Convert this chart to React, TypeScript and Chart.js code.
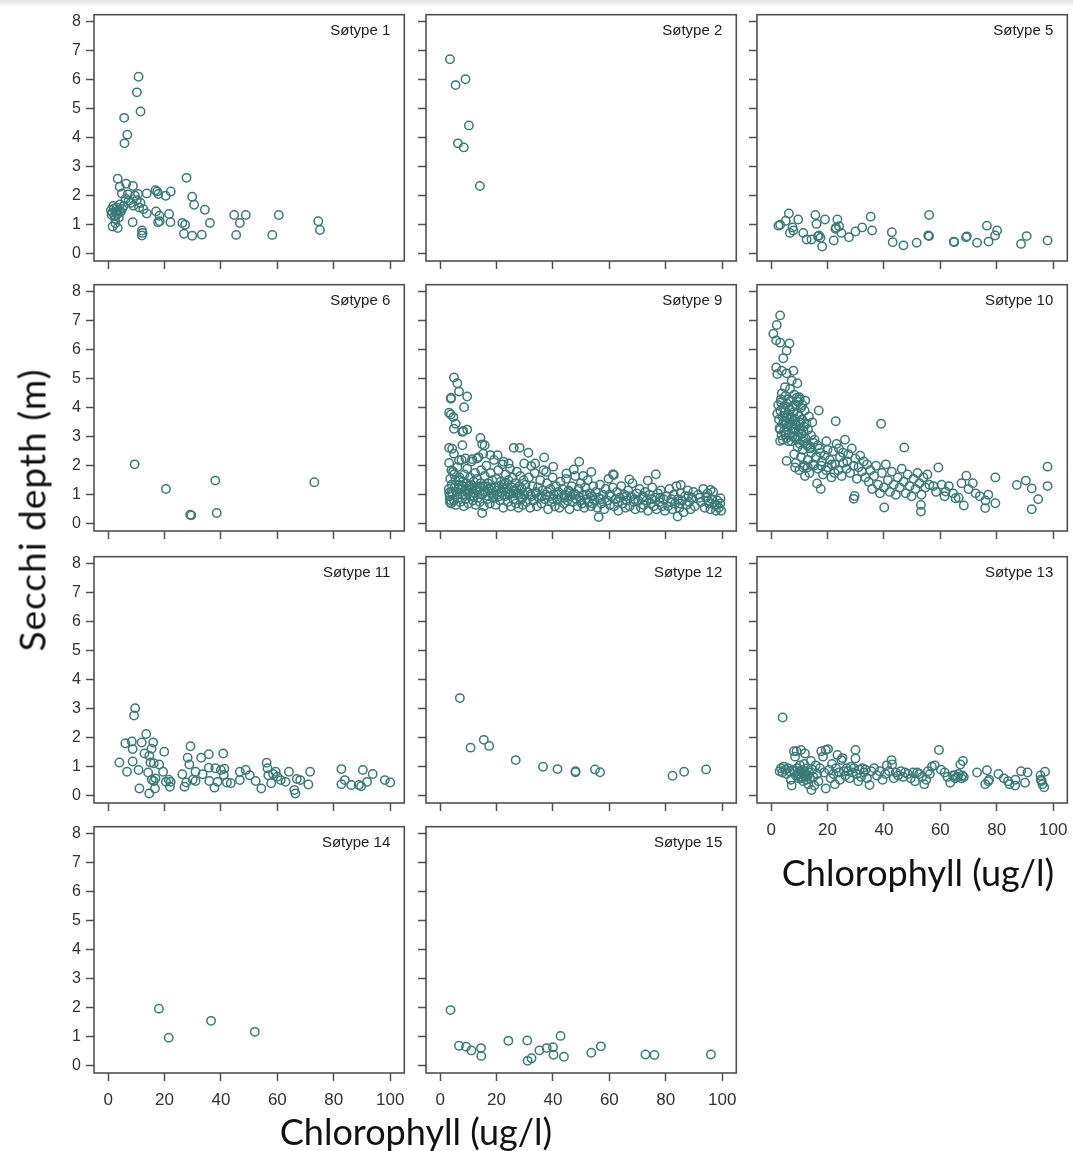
import React, { useEffect, useRef } from 'react';
import { Chart, registerables } from 'chart.js';

Chart.register(...registerables);

const xTickValues = [0, 20, 40, 60, 80, 100];
const yTickValues = [0, 1, 2, 3, 4, 5, 6, 7, 8];
const xAxisTitle = 'Chlorophyll (ug/l)';
const yAxisTitle = 'Secchi depth (m)';
const panelTitles = ['Søtype 1', 'Søtype 2', 'Søtype 5', 'Søtype 6', 'Søtype 9', 'Søtype 10', 'Søtype 11', 'Søtype 12', 'Søtype 13', 'Søtype 14', 'Søtype 15'];

const p1 = [[10.8,6.11],[10.2,5.57],[11.5,4.91],[5.7,4.69],[6.8,4.11],[5.8,3.81],[3.4,2.59],[27.8,2.62],[6.4,2.42],[8.8,2.34],[4.1,2.31],[4.9,2.08],[7.0,2.05],[10.6,2.06],[13.7,2.08],[16.8,2.19],[17.4,2.15],[17.8,2.06],[20.4,2.0],[22.2,2.15],[29.8,1.97],[30.5,1.69],[34.3,1.52],[36.1,1.06],[26.3,1.06],[27.3,1.0],[26.9,0.69],[29.8,0.62],[33.2,0.66],[44.7,1.34],[48.8,1.34],[46.7,1.06],[45.4,0.65],[60.5,1.34],[58.2,0.65],[74.5,1.12],[75.1,0.82],[12.0,0.8],[12.0,0.63],[12.2,0.72],[17.0,1.46],[18.2,1.31],[17.7,1.09],[18.3,1.12],[21.6,1.37],[22.1,1.09],[8.7,1.09],[3.4,0.89],[1.6,0.94],[13.7,1.39],[1.0,1.5],[1.2,1.35],[1.5,1.42],[2.0,1.55],[2.3,1.3],[2.8,1.45],[3.0,1.6],[3.5,1.38],[4.0,1.5],[4.5,1.45],[5.0,1.55],[5.5,1.65],[2.5,1.2],[3.8,1.25],[4.2,1.7],[1.8,1.65],[7.3,1.83],[9.0,1.66],[10.2,1.85],[11.0,1.6],[11.5,1.75],[12.5,1.54],[8.0,1.75],[6.2,1.9],[9.5,2.0],[2.6,1.05],[3.0,1.4]];

const p2 = [[3.5,6.71],[5.5,5.82],[9.0,6.02],[10.2,4.43],[6.3,3.81],[8.4,3.67],[14.1,2.34]];

const p5 = [[2.6,0.97],[3.2,1.0],[6.3,1.39],[5.2,1.14],[7.6,0.91],[7.9,0.8],[6.7,0.72],[9.6,1.18],[11.4,0.72],[12.6,0.49],[14.3,0.49],[15.7,1.34],[16.1,1.03],[17.0,0.63],[17.5,0.55],[18.1,0.25],[19.1,1.18],[22.2,0.46],[22.8,0.86],[23.5,1.18],[24.1,0.95],[24.9,0.72],[27.6,0.57],[29.9,0.77],[32.3,0.91],[35.3,1.28],[35.8,0.8],[42.8,0.74],[43.1,0.4],[46.9,0.29],[51.6,0.38],[56.0,1.34],[56.0,0.61],[55.7,0.63],[64.8,0.42],[64.9,0.4],[69.1,0.57],[69.4,0.6],[73.0,0.38],[76.5,0.97],[77.1,0.42],[79.4,0.63],[80.1,0.8],[88.6,0.34],[90.6,0.61],[98.0,0.46],[16.6,0.6],[23.0,0.9]];

const p6 = [[9.4,2.05],[20.5,1.2],[29.1,0.31],[29.5,0.29],[38.0,1.49],[38.5,0.37],[73.1,1.43]];

const p9 = [[4.9,5.05],[6.1,4.85],[6.7,4.56],[3.8,4.31],[3.9,4.35],[9.6,4.39],[8.5,4.02],[3.2,3.83],[3.8,3.77],[4.7,3.68],[5.5,3.45],[4.9,3.28],[7.9,3.17],[9.6,3.25],[8.2,3.2],[3.2,2.62],[4.3,2.59],[4.9,2.42],[7.9,2.71],[14.3,2.96],[14.9,2.74],[15.8,2.71],[26.1,2.62],[28.2,2.62],[3.2,2.1],[4.0,1.85],[6.7,2.19],[9.0,2.25],[11.4,2.23],[13.1,2.25],[15.3,2.42],[17.8,2.37],[20.4,2.37],[22.5,2.14],[24.3,2.08],[31.3,2.45],[29.8,2.08],[32.3,1.99],[33.7,2.08],[36.9,2.29],[40.1,1.97],[37.6,1.79],[44.8,1.74],[47.4,1.87],[49.3,2.14],[50.7,1.65],[53.6,1.79],[61.3,1.71],[61.6,1.68],[67.1,1.53],[76.5,1.71],[73.6,1.49],[85.3,1.34],[95.9,1.17],[99.4,0.88],[14.9,0.37],[56.2,0.23],[84.2,0.25],[3.2,1.07],[3.5,0.82],
[3.1,1.2],[3.4,0.95],[3.6,1.55],[3.9,0.7],[4.1,1.35],[4.4,1.05],[4.6,1.8],[4.9,0.8],[5.1,1.25],[5.4,1.5],[5.6,0.65],[5.9,1.1],[6.1,1.95],[6.4,0.9],[6.6,1.35],[6.9,1.6],[7.1,0.75],[7.4,1.2],[7.6,2.2],[7.9,1.0],[8.1,1.45],[8.4,0.6],[8.6,1.7],[8.9,1.15],[9.1,0.85],[9.4,1.4],[9.6,1.9],[9.9,1.05],[10.1,0.7],[10.4,1.3],[10.6,1.6],[10.9,0.95],[11.1,2.15],[11.4,1.2],[11.6,0.8],[11.9,1.45],[12.1,1.05],[12.4,1.75],[12.6,0.65],[12.9,1.25],[13.1,1.55],[13.4,0.9],[13.6,2.3],[13.9,1.1],[14.1,0.75],[14.4,1.4],[14.6,1.85],[14.9,1.0],[5.0,1.7],[6.0,1.0],[7.0,1.5],[8.0,1.3],[9.0,1.0],[10.0,1.15],[11.0,1.35],[12.0,0.95],[13.0,1.15],[14.0,1.25],[4.0,1.1],[3.5,0.75],[6.5,1.2],[9.5,1.2],
[15.2,1.3],[15.5,0.6],[15.8,1.65],[16.1,1.1],[16.4,2.0],[16.7,0.85],[17.0,1.4],[17.3,1.2],[17.6,0.7],[17.9,1.75],[18.2,1.05],[18.5,1.5],[18.8,0.9],[19.1,2.2],[19.4,1.25],[19.7,0.65],[20.0,1.55],[20.3,1.0],[20.6,1.85],[20.9,1.3],[21.2,0.8],[21.5,1.45],[21.8,1.1],[22.1,2.05],[22.4,0.55],[22.7,1.35],[23.0,0.95],[23.3,1.7],[23.6,1.2],[23.9,0.75],[24.2,1.5],[24.5,1.0],[24.8,1.9],[25.1,0.6],[25.4,1.25],[25.7,1.6],[26.0,0.85],[26.3,1.15],[26.6,1.4],[26.9,0.7],[27.2,1.8],[27.5,1.05],[27.8,0.55],[28.1,1.3],[28.4,1.65],[28.7,0.9],[29.0,1.2],[29.3,0.65],[29.6,1.5],[29.9,1.0],[16.0,1.3],[18.0,1.25],[20.0,1.15],[22.0,1.25],[24.0,1.1],[26.0,1.05],[28.0,1.0],[17.0,0.95],[19.0,1.0],[21.0,0.95],[23.0,1.4],[25.0,1.05],[27.0,1.2],[29.0,0.85],
[30.3,1.35],[30.7,0.75],[31.1,1.1],[31.5,1.6],[31.9,0.55],[32.3,0.95],[32.7,1.3],[33.1,0.8],[33.5,1.75],[33.9,1.05],[34.3,0.6],[34.7,1.25],[35.1,0.9],[35.5,1.5],[35.9,0.7],[36.3,1.15],[36.7,1.85],[37.1,0.85],[37.5,1.0],[37.9,1.4],[38.3,0.5],[38.7,0.95],[39.1,1.2],[39.5,0.75],[39.9,1.6],[40.3,1.0],[40.7,0.6],[41.1,1.3],[41.5,0.85],[41.9,1.1],[42.3,0.55],[42.7,1.45],[43.1,0.9],[43.5,1.2],[43.9,0.7],[44.3,1.0],[44.7,1.55],[45.1,0.8],[45.5,1.15],[45.9,0.5],[46.3,0.95],[46.7,1.3],[47.1,0.75],[47.5,1.05],[47.9,1.65],[48.3,0.85],[48.7,0.6],[49.1,1.2],[49.5,0.9],[49.9,1.4],[50.3,0.7],[50.7,1.0],[51.1,0.55],[51.5,1.25],[51.9,0.85],[52.3,1.5],[52.7,0.75],[53.1,1.05],[53.5,0.6],[53.9,0.95],[54.3,1.3],[54.7,0.8],[32.0,1.0],[34.0,1.1],[36.0,0.95],[38.0,1.1],[40.0,0.85],[42.0,1.0],[44.0,0.9],[46.0,1.1],[48.0,1.0],[50.0,0.8],[52.0,1.0],[54.0,0.7],
[55.2,1.1],[55.7,0.55],[56.2,0.9],[56.7,1.35],[57.2,0.7],[57.7,1.0],[58.2,0.5],[58.7,1.2],[59.2,0.8],[59.7,1.55],[60.2,0.65],[60.7,0.95],[61.2,1.25],[61.7,0.6],[62.2,0.85],[62.7,1.1],[63.2,0.45],[63.7,0.9],[64.2,1.3],[64.7,0.7],[65.2,1.0],[65.7,0.55],[66.2,0.8],[66.7,1.15],[67.2,0.6],[67.7,0.95],[68.2,1.4],[68.7,0.75],[69.2,0.5],[69.7,1.05],[70.2,0.8],[70.7,1.2],[71.2,0.55],[71.7,0.9],[72.2,0.65],[72.7,1.1],[73.2,0.8],[73.7,0.45],[74.2,1.0],[74.7,0.7],[75.2,1.25],[75.7,0.6],[76.2,0.9],[76.7,0.5],[77.2,1.05],[77.7,0.75],[78.2,1.15],[78.7,0.6],[79.2,0.85],[79.7,0.45],[57.0,0.85],[60.0,1.0],[63.0,0.75],[66.0,0.95],[69.0,0.85],[72.0,0.95],[75.0,0.85],[78.0,0.9],
[80.3,0.95],[80.8,0.6],[81.3,1.2],[81.8,0.75],[82.3,0.5],[82.8,1.0],[83.3,0.7],[83.8,1.3],[84.3,0.85],[84.8,0.55],[85.3,1.05],[85.8,0.8],[86.3,0.4],[86.8,0.95],[87.3,0.65],[87.8,1.15],[88.3,0.75],[88.8,0.5],[89.3,0.9],[89.8,1.1],[90.3,0.6],[91.5,1.0],[92.5,0.75],[93.3,1.2],[93.8,0.55],[94.3,0.9],[94.8,1.05],[95.3,0.7],[95.8,0.5],[96.3,0.85],[96.8,1.1],[97.3,0.65],[97.8,0.45],[98.3,0.8],[98.8,0.55],[99.3,0.7],[99.6,0.45],[82.0,0.85],[85.0,0.7],[88.0,0.95],[92.0,0.9],[95.0,0.8],[98.0,0.65]];

const p10 = [[3.2,7.19],[2.0,6.86],[0.8,6.56],[1.8,6.33],[3.2,6.25],[6.5,6.22],[5.5,5.97],[4.3,5.71],[1.8,5.39],[2.2,5.17],[3.8,5.28],[5.5,5.19],[7.9,5.28],[7.3,4.94],[9.3,4.85],[4.9,4.71],[6.7,4.65],[10.0,4.37],[3.5,4.19],[16.9,3.91],[22.9,3.54],[39.0,3.45],[3.2,2.86],[5.5,2.17],[8.5,1.94],[11.4,1.94],[47.2,2.63],[59.3,1.94],[98.0,1.97],[98.0,1.3],[79.5,1.6],[69.2,1.66],[87.1,1.34],[90.3,1.49],[92.4,1.22],[94.7,0.85],[92.4,0.5],[79.5,0.71],[75.9,0.54],[68.3,0.63],[65.4,0.88],[61.9,1.11],[53.1,0.65],[53.1,0.42],[40.1,0.56],[29.3,0.86],[29.6,0.96],[16.3,1.39],[17.6,1.2],
[2.5,4.1],[2.8,3.6],[3.0,3.3],[3.3,3.9],[3.5,4.3],[3.7,3.05],[4.0,3.7],[4.2,3.45],[4.4,4.0],[4.6,3.2],[4.8,3.85],[5.0,4.4],[5.2,3.55],[5.4,2.95],[5.6,4.15],[5.8,3.35],[6.0,3.75],[6.2,4.3],[6.4,3.1],[6.6,3.95],[6.8,3.5],[7.0,4.25],[7.2,2.85],[7.4,3.65],[7.6,4.05],[7.8,3.3],[8.0,3.85],[8.2,4.45],[8.4,3.0],[8.6,3.6],[8.8,4.1],[9.0,3.4],[9.2,2.9],[9.4,3.8],[9.6,4.2],[9.8,3.2],[10.0,3.7],[10.2,2.75],[10.4,3.5],[10.6,4.0],[10.8,3.1],[11.0,3.6],[11.3,2.85],[11.6,3.35],[11.9,3.9],[12.2,2.95],[12.5,3.45],[12.8,2.7],[13.1,3.25],[13.4,3.7],[13.8,2.6],[14.2,3.05],[14.6,3.5],[15.0,2.8],[3.2,3.25],[4.1,2.9],[5.1,3.15],[6.1,2.85],[7.1,3.4],[8.1,3.25],[9.1,4.35],[10.1,4.3],[11.1,4.1],[12.1,4.25],[6.5,3.6],[7.5,3.0],[8.5,3.45],[9.5,3.0],[10.5,3.3],[11.5,3.2],[5.5,3.65],[4.5,3.55],[3.8,4.5],[2.2,3.8],
[8.2,2.4],[8.8,2.1],[9.4,2.65],[10.0,1.85],[10.6,2.3],[11.2,2.55],[11.8,2.0],[12.4,2.75],[13.0,2.2],[13.6,1.75],[14.2,2.45],[14.8,2.05],[15.4,2.9],[16.0,2.3],[16.6,1.9],[17.2,2.6],[17.8,2.0],[18.4,1.7],[19.0,2.35],[19.6,2.85],[20.2,1.95],[20.8,2.2],[21.4,1.6],[22.0,2.5],[22.6,2.05],[23.2,2.75],[23.8,1.85],[24.4,2.3],[25.0,1.65],[25.6,2.1],[26.2,2.9],[26.8,1.9],[27.4,2.4],[28.0,1.75],[28.6,2.6],[29.2,2.0],[29.8,2.25],[30.4,1.55],[31.0,1.95],[31.6,2.35],[32.2,1.8],[32.8,2.15],[33.4,1.6],[34.0,2.05],[34.6,1.45],[35.2,1.85],[15.2,2.0],[17.5,2.45],[19.5,1.85],[21.5,2.05],[12.0,1.65],[13.0,1.95],[24.0,2.6],[18.0,2.15],[20.0,2.55],[27.0,2.15],[22.5,1.75],[16.5,2.7],[14.0,2.65],[25.5,2.45],
[35.8,1.2],[36.5,1.65],[37.2,2.0],[37.9,1.35],[38.6,1.05],[39.3,1.75],[40.0,1.25],[40.7,2.05],[41.4,1.5],[42.1,1.1],[42.8,1.8],[43.5,1.35],[44.2,1.0],[44.9,1.6],[45.6,1.25],[46.3,1.9],[47.0,1.45],[47.7,1.05],[48.4,1.7],[49.1,1.3],[49.8,0.95],[50.5,1.55],[51.2,1.2],[51.9,1.75],[52.6,1.4],[53.3,1.0],[54.0,1.6],[54.7,1.25],[55.4,1.7],[56.1,1.35],[57.5,1.3],[58.5,1.1],[60.5,1.35],[61.5,0.95],[63.0,1.3],[64.5,1.05],[66.5,0.9],[67.5,1.4],[70.0,1.2],[71.5,1.4],[72.5,1.05],[74.0,0.95],[76.0,0.8],[77.0,1.0]];

const p11 = [[9.6,3.02],[9.2,2.77],[4.0,1.15],[6.1,1.81],[6.7,0.83],[8.4,1.87],[8.7,1.61],[8.7,1.18],[10.8,0.89],[11.1,0.25],[11.9,1.84],[13.5,2.13],[12.9,1.46],[14.6,1.38],[15.0,1.15],[14.2,0.8],[14.6,0.08],[16.0,1.84],[15.4,1.62],[16.2,1.12],[16.2,0.51],[16.6,0.25],[18.1,1.08],[19.5,0.83],[19.9,1.52],[20.5,0.48],[21.9,0.31],[22.2,0.48],[26.3,0.74],[27.1,0.31],[27.7,0.46],[29.2,1.71],[28.2,1.31],[28.8,1.08],[31.0,0.83],[31.0,0.51],[33.0,1.31],[35.7,1.43],[33.5,0.74],[35.9,0.51],[35.7,0.97],[37.7,0.28],[38.8,0.48],[40.0,0.89],[40.8,1.46],[41.2,0.93],[42.1,0.46],[43.5,0.43],[46.7,0.54],[46.7,0.83],[48.8,0.89],[50.2,0.71],[52.3,0.51],[54.3,0.25],[56.2,1.14],[56.8,0.71],[57.8,0.43],[59.4,0.83],[60.0,0.66],[61.2,0.54],[62.9,0.48],[64.1,0.83],[66.0,0.2],[66.4,0.08],[66.9,0.58],[68.1,0.54],[71.0,0.39],[71.6,0.83],[82.7,0.92],[82.7,0.4],[83.9,0.54],[86.2,0.37],[88.9,0.37],[89.7,0.33],[90.3,0.89],[91.8,0.48],[93.8,0.75],[98.1,0.54],[100.0,0.46],[56.5,0.95],[58.5,0.75],[15.5,0.55],[16.8,0.6],[21.5,0.55],[30.0,0.55],[38.0,0.95],[41.0,0.72]];

const p12 = [[7.0,3.37],[10.8,1.66],[15.5,1.93],[17.4,1.72],[26.8,1.23],[36.5,1.0],[41.6,0.92],[48.0,0.85],[48.0,0.81],[54.9,0.91],[56.7,0.81],[82.4,0.69],[86.5,0.83],[94.3,0.91]];

const p13 = [[4.1,2.7],[3.0,0.85],[3.5,0.95],[4.0,0.8],[4.5,1.0],[5.0,0.9],[5.5,0.75],[6.0,0.95],[6.5,0.85],[7.0,0.55],[7.3,0.35],[7.8,0.9],[8.1,1.54],[8.5,1.35],[8.8,0.7],[9.0,1.54],[9.3,0.95],[9.6,0.6],[9.9,0.85],[10.2,1.05],[10.6,1.58],[10.8,0.65],[11.1,0.9],[11.4,0.5],[11.7,1.1],[12.0,1.46],[12.3,0.75],[12.6,0.55],[12.9,0.95],[13.2,0.4],[13.5,0.8],[13.8,0.6],[14.1,1.2],[14.3,0.2],[14.6,0.9],[15.0,0.65],[15.3,0.35],[10.0,0.75],[11.0,0.8],[12.0,0.7],[9.5,0.75],[8.2,0.85],[10.5,0.6],[11.8,0.85],[13.0,0.7],
[15.8,1.05],[16.3,0.75],[16.8,0.5],[17.3,0.95],[17.8,1.54],[18.4,1.35],[18.8,0.8],[19.4,1.58],[19.4,0.25],[20.2,1.61],[20.6,0.9],[21.1,0.6],[21.6,1.1],[22.1,0.75],[22.6,0.4],[23.0,0.95],[23.5,1.41],[24.0,0.8],[24.4,0.55],[24.9,1.23],[25.3,1.3],[25.8,0.85],[26.3,0.7],[26.8,0.95],[27.3,0.85],[27.8,0.6],[28.3,1.0],[28.8,0.8],[29.3,0.95],[29.9,1.58],[29.9,1.29],[30.4,0.75],[30.9,0.5],[31.4,0.9],[31.9,0.65],[32.4,0.95],[32.9,0.8],[33.4,0.9],[34.0,0.6],[34.9,0.37],
[35.5,0.85],[36.5,0.95],[37.5,0.7],[38.5,0.85],[39.5,0.55],[40.5,0.75],[41.0,1.05],[41.8,0.85],[42.7,1.23],[42.9,1.08],[43.5,0.6],[44.2,0.8],[45.0,0.7],[46.0,0.85],[46.8,0.65],[47.5,0.8],[48.5,0.75],[49.5,0.6],[50.3,0.8],[51.0,0.5],[51.8,0.8],[52.5,0.75],[53.5,0.65],[54.3,0.4],[55.0,0.55],[55.6,0.85],[56.3,0.75],[57.0,1.0],[58.0,1.05],[59.5,1.58],[60.2,0.9],[61.5,0.8],[62.5,0.65],[63.5,0.45],[64.5,0.7],[65.3,0.6],[66.0,0.65],[66.5,0.75],[67.1,1.08],[67.5,0.6],[68.0,1.2],[68.3,0.65],[65.0,0.7],[67.8,0.7],
[73.0,0.8],[75.9,0.4],[76.5,0.88],[77.0,0.5],[77.3,0.55],[80.6,0.75],[82.5,0.6],[84.0,0.5],[84.5,0.4],[86.5,0.35],[86.6,0.55],[88.6,0.85],[90.0,0.45],[90.9,0.8],[95.6,0.55],[95.9,0.51],[96.2,0.4],[96.8,0.29],[97.1,0.83],[95.5,0.7]];

const p14 = [[18.0,1.97],[21.5,0.97],[36.5,1.55],[52.0,1.17]];

const p15 = [[3.7,1.92],[6.7,0.69],[9.2,0.66],[11.1,0.53],[14.5,0.61],[14.6,0.34],[24.2,0.86],[30.9,0.87],[31.0,0.17],[32.4,0.26],[35.2,0.53],[37.8,0.61],[40.0,0.64],[40.2,0.38],[42.7,1.03],[43.9,0.31],[53.6,0.45],[57.0,0.67],[72.8,0.39],[76.0,0.37],[96.0,0.39]];

const panelData = [p1, p2, p5, p6, p9, p10, p11, p12, p13, p14, p15];
const panelRows = [0, 0, 0, 1, 1, 1, 2, 2, 2, 3, 3];
const panelCols = [0, 1, 2, 0, 1, 2, 0, 1, 2, 0, 1];
const showYLabels = [true, false, false, true, false, false, true, false, false, true, false];
const showXLabels = [false, false, false, false, false, false, false, false, true, true, true];

const COL_LEFT = [94, 426, 757];
const ROW_TOP = [13, 283, 555, 825];
const FRAME_W = 312;
const FRAME_H = 248;
const Y_AXIS_W = 94;
const X_AXIS_H = 46;
const PAD = 4;
const MARK = '#3a7a77';
const FRAME_COLOR = '#505050';
const TICK_FONT = { family: '"Liberation Sans", Arial, sans-serif', size: 16 };

const framePlugin = {
  id: 'frameBox',
  afterDraw(chart: any, _args: any, opts: any) {
    const { ctx, chartArea: a } = chart;
    ctx.save();
    ctx.strokeStyle = FRAME_COLOR;
    ctx.lineWidth = 1.6;
    ctx.strokeRect(a.left, a.top, a.right - a.left, a.bottom - a.top);
    ctx.font = '15px "Liberation Sans", Arial, sans-serif';
    ctx.fillStyle = '#222';
    ctx.textAlign = 'right';
    ctx.textBaseline = 'middle';
    ctx.fillText(opts.title || '', a.right - 14, a.top + 16);
    ctx.restore();
  },
};

function zeroPadding(s: any) {
  s.paddingTop = 0;
  s.paddingBottom = 0;
  s.paddingLeft = 0;
  s.paddingRight = 0;
}

function Panel({ idx }: { idx: number }) {
  const ref = useRef<HTMLCanvasElement | null>(null);
  const left = COL_LEFT[panelCols[idx]] - Y_AXIS_W;
  const top = ROW_TOP[panelRows[idx]] - PAD;
  const width = Y_AXIS_W + FRAME_W + PAD;
  const height = PAD + FRAME_H + X_AXIS_H;

  useEffect(() => {
    if (!ref.current) return;
    const showY = showYLabels[idx];
    const showX = showXLabels[idx];
    const chart = new Chart(ref.current, {
      type: 'scatter',
      data: {
        datasets: [
          {
            data: panelData[idx].map(([x, y]) => ({ x, y })),
            pointStyle: 'circle',
            pointRadius: 4.2,
            pointBorderWidth: 1.5,
            pointBackgroundColor: 'rgba(0,0,0,0)',
            pointBorderColor: MARK,
            borderColor: MARK,
            backgroundColor: 'rgba(0,0,0,0)',
          },
        ],
      },
      options: {
        animation: false,
        responsive: false,
        events: [],
        layout: { padding: { top: PAD, right: PAD, left: 0, bottom: 0 } },
        plugins: {
          legend: { display: false },
          tooltip: { enabled: false },
          frameBox: { title: panelTitles[idx] },
        } as any,
        scales: {
          x: {
            type: 'linear',
            min: -5,
            max: 105,
            afterFit: (s: any) => { s.height = X_AXIS_H; zeroPadding(s); },
            border: { display: false },
            grid: { drawOnChartArea: false, drawTicks: true, tickLength: 8, tickColor: FRAME_COLOR, tickWidth: 1.5 },
            ticks: {
              stepSize: 20,
              includeBounds: false,
              autoSkip: false,
              maxRotation: 0,
              padding: 9,
              color: '#333',
              font: { ...TICK_FONT, size: 17 },
              callback: (v: any) => (showX && xTickValues.includes(Number(v)) ? String(v) : ''),
            },
          },
          y: {
            type: 'linear',
            min: -0.25,
            max: 8.25,
            afterFit: (s: any) => { s.width = Y_AXIS_W; zeroPadding(s); },
            border: { display: false },
            grid: { drawOnChartArea: false, drawTicks: true, tickLength: 8, tickColor: FRAME_COLOR, tickWidth: 1.5 },
            ticks: {
              stepSize: 1,
              includeBounds: false,
              autoSkip: false,
              padding: 5,
              color: '#333',
              font: TICK_FONT,
              callback: (v: any) => (showY && yTickValues.includes(Number(v)) ? String(v) : ''),
            },
          },
        },
      },
      plugins: [framePlugin],
    } as any);
    return () => chart.destroy();
  }, [idx]);

  return (
    <canvas
      ref={ref}
      width={width}
      height={height}
      style={{ position: 'absolute', left, top, width, height }}
    />
  );
}

const bigFont = 'Lato, "Open Sans", sans-serif';

export default function App() {
  return (
    <div style={{ position: 'absolute', left: 0, top: 0, width: 1073, height: 1151, background: '#fff', overflow: 'hidden' }}>
      <div style={{ position: 'absolute', left: 0, top: 0, width: 1073, height: 7, background: 'linear-gradient(#dedede, #ffffff)' }} />
      {panelData.map((_, i) => (
        <Panel key={i} idx={i} />
      ))}
      <div
        style={{
          position: 'absolute', left: 31, top: 510, transform: 'translate(-50%, -50%) rotate(-90deg)',
          fontFamily: bigFont, fontSize: 37, letterSpacing: 1, color: '#111', whiteSpace: 'nowrap', lineHeight: 1,
        }}
      >
        {yAxisTitle}
      </div>
      <div
        style={{
          position: 'absolute', left: 416, top: 1131, transform: 'translate(-50%, -50%)',
          fontFamily: bigFont, fontSize: 36, color: '#111', whiteSpace: 'nowrap', lineHeight: 1,
        }}
      >
        {xAxisTitle}
      </div>
      <div
        style={{
          position: 'absolute', left: 918, top: 872, transform: 'translate(-50%, -50%)',
          fontFamily: bigFont, fontSize: 36, color: '#111', whiteSpace: 'nowrap', lineHeight: 1,
        }}
      >
        {xAxisTitle}
      </div>
    </div>
  );
}
